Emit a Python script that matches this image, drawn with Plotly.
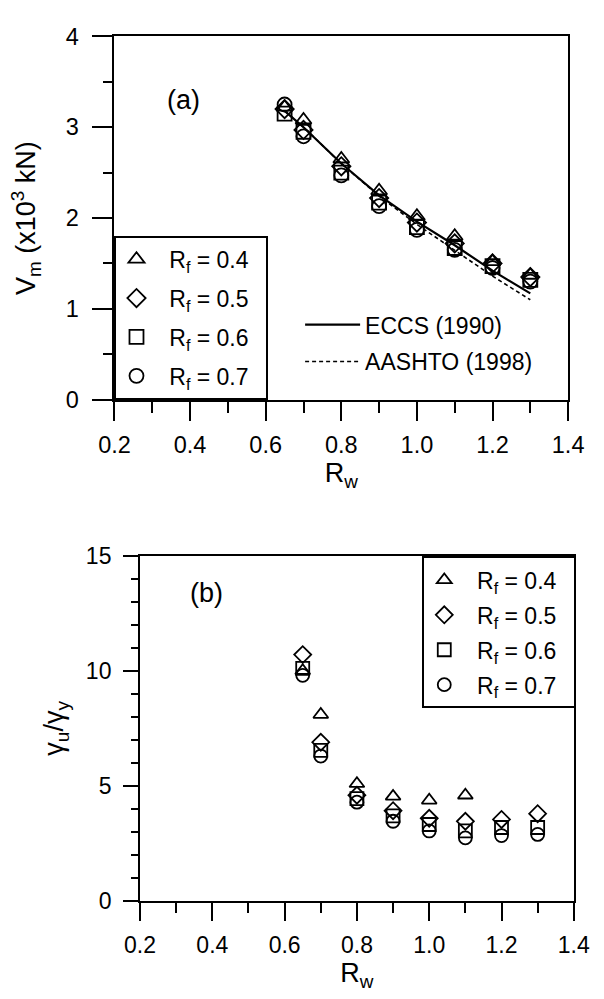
import plotly.graph_objects as go

FONT = "Liberation Sans, Arial, sans-serif"

# ---------------- data ----------------
rw = [0.65, 0.7, 0.8, 0.9, 1.0, 1.1, 1.2, 1.3]
rf_labels = ["R<sub>f</sub> = 0.4", "R<sub>f</sub> = 0.5", "R<sub>f</sub> = 0.6", "R<sub>f</sub> = 0.7"]
symbols = ["triangle-up-open", "diamond-open", "square-open", "circle-open"]

# panel (a): Vm (x10^3 kN)
vm_rf04 = [3.22, 3.08, 2.65, 2.30, 2.02, 1.80, 1.52, 1.37]
vm_rf05 = [3.20, 2.97, 2.57, 2.22, 1.95, 1.72, 1.50, 1.35]
vm_rf06 = [3.15, 2.95, 2.50, 2.17, 1.90, 1.67, 1.47, 1.32]
vm_rf07 = [3.25, 2.90, 2.47, 2.13, 1.87, 1.65, 1.45, 1.30]

eccs = [3.18, 3.00, 2.60, 2.25, 1.96, 1.70, 1.42, 1.17]
aashto = [3.18, 3.00, 2.60, 2.24, 1.93, 1.64, 1.36, 1.10]

# panel (b): gamma_u / gamma_y
g_rf04 = [10.0, 8.1, 5.1, 4.55, 4.38, 4.6, None, None]
g_rf05 = [10.7, 6.9, 4.6, 3.93, 3.6, 3.47, 3.55, 3.8]
g_rf06 = [10.1, 6.55, 4.45, 3.7, 3.33, 3.05, 3.2, 3.2]
g_rf07 = [9.8, 6.3, 4.3, 3.47, 3.05, 2.75, 2.85, 2.9]

vm_sets = [vm_rf04, vm_rf05, vm_rf06, vm_rf07]
g_sets = [g_rf04, g_rf05, g_rf06, g_rf07]

NB = "\u00a0"

fig = go.Figure()

for i, (ys, sym, lab) in enumerate(zip(vm_sets, symbols, rf_labels)):
    fig.add_trace(go.Scatter(
        x=rw, y=ys, mode="markers", name=NB * 2 + lab + NB * 2, legend="legend", legendgroup=f"a{i}",
        marker=dict(symbol=sym, size=14, color="black", line=dict(color="black", width=1.8)),
        xaxis="x", yaxis="y"))

fig.add_trace(go.Scatter(x=rw, y=eccs, mode="lines", name="ECCS (1990)", legend="legend2",
                         legendgroup="l1",
                         line=dict(color="black", width=2.2), xaxis="x", yaxis="y"))
fig.add_trace(go.Scatter(x=rw, y=aashto, mode="lines", name="AASHTO (1998)", legend="legend2",
                         legendgroup="l2",
                         line=dict(color="black", width=1.6, dash="4px,3px"), xaxis="x", yaxis="y"))

for i, (ys, sym, lab) in enumerate(zip(g_sets, symbols, rf_labels)):
    fig.add_trace(go.Scatter(
        x=rw, y=ys, mode="markers", name=NB * 2 + lab + NB * 2, legend="legend3", legendgroup=f"b{i}",
        marker=dict(symbol=sym, size=13, color="black", line=dict(color="black", width=1.8)),
        xaxis="x2", yaxis="y2"))

W, H = 604, 999
def px(x):
    return x / W
def py(y):
    return 1 - y / H

def axis_style(tl, mtl, size=23.5):
    return dict(
        showline=True, linecolor="black", linewidth=2, mirror=True,
        ticks="outside", ticklen=tl, tickwidth=2, tickcolor="black",
        showgrid=False, zeroline=False,
        tickfont=dict(family=FONT, size=size, color="black"),
    )

def minor(d, l):
    return dict(dtick=d, ticklen=l, tickwidth=2, tickcolor="black", ticks="outside")

TFONT = dict(family=FONT, size=27, color="black")

fig.update_layout(
    width=W, height=H, margin=dict(l=0, r=0, t=0, b=0),
    paper_bgcolor="white", plot_bgcolor="white",
    font=dict(family=FONT, color="black"),
    xaxis=dict(domain=[px(104), px(583)], range=[0.2, 1.4], dtick=0.2, tick0=0.2, tickformat=".1f",
               minor=minor(0.1, 11),
               title=dict(text="R<sub>w</sub>", font=TFONT, standoff=6),
               anchor="y", ticklabelstandoff=4, **axis_style(19, 11)),
    yaxis=dict(domain=[py(397), py(24)], range=[0, 4], dtick=1,
               minor=minor(0.5, 9),
               title=dict(text="V<sub>m</sub> (x10<sup>3</sup> kN)", font=TFONT, standoff=22),
               anchor="x", ticklabelstandoff=9, **axis_style(20, 9)),
    xaxis2=dict(domain=[px(131), px(589)], range=[0.2, 1.4], dtick=0.2, tick0=0.2, tickformat=".1f",
                minor=minor(0.1, 10),
                title=dict(text="R<sub>w</sub>", font=TFONT, standoff=6),
                anchor="y2", ticklabelstandoff=4, **axis_style(18, 10, 23)),
    yaxis2=dict(domain=[py(912), py(557)], range=[0, 15], dtick=5,
                minor=minor(1, 7),
                title=dict(text="γ<sub>u</sub>/γ<sub>y</sub>", font=TFONT, standoff=14),
                anchor="x2", ticklabelstandoff=7, **axis_style(15, 7, 23)),
    legend=dict(x=px(104), y=py(397), xanchor="left", yanchor="bottom",
                bgcolor="white", bordercolor="black", borderwidth=2,
                font=dict(family=FONT, size=23, color="black"), tracegroupgap=6, itemwidth=30),
    legend2=dict(x=px(300), y=py(380), xanchor="left", yanchor="bottom",
                 bgcolor="rgba(0,0,0,0)", borderwidth=0,
                 font=dict(family=FONT, size=23, color="black"), tracegroupgap=4, itemwidth=55),
    legend3=dict(x=px(429), y=py(558), xanchor="left", yanchor="top",
                 bgcolor="white", bordercolor="black", borderwidth=2,
                 font=dict(family=FONT, size=23, color="black"), tracegroupgap=2, itemwidth=30),
    showlegend=True,
)

fig.add_annotation(text="(a)", x=px(157), y=py(72), xref="paper", yref="paper",
                   showarrow=False, font=dict(family=FONT, size=27, color="black"))
fig.add_annotation(text="(b)", x=px(182), y=py(596), xref="paper", yref="paper",
                   showarrow=False, font=dict(family=FONT, size=27, color="black"))

fig.write_html("out.html")
